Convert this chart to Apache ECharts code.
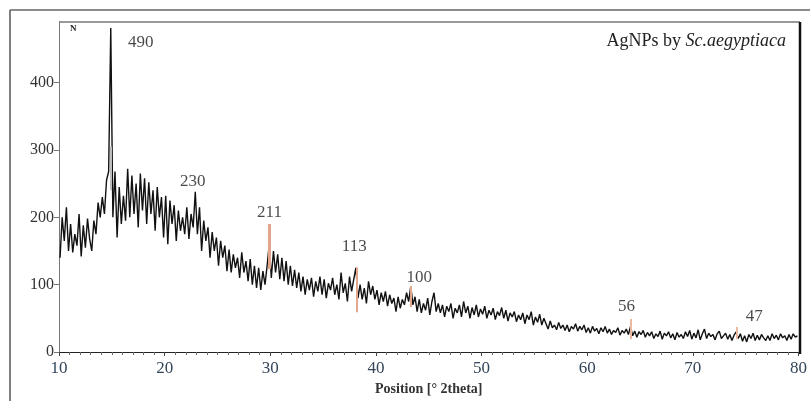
<!DOCTYPE html>
<html>
<head>
<meta charset="utf-8">
<script src="https://cdn.jsdelivr.net/npm/echarts@6/dist/echarts.min.js"></script>
<style>
  html, body { margin: 0; padding: 0; background: #fff; }
  #chart { width: 810px; height: 401px; }
</style>
</head>
<body>
<div id="chart"></div>
<script>
// 扫描参数：起点 10.1°，步长 0.2°
const startAngle = 10.1;
const stepAngle = 0.2;

// 衍射强度 (counts)，每行 1°
const counts = [
  140, 200, 165, 215, 150,
  190, 148, 175, 158, 205,
  142, 188, 155, 198, 168,
  150, 195, 175, 222, 200,
  230, 205, 255, 268, 481,
  200, 268, 170, 245, 190,
  232, 195, 272, 200, 262,
  205, 250, 185, 265, 210,
  258, 190, 252, 205, 240,
  180, 245, 200, 230, 170,
  232, 160, 225, 190, 218,
  165, 210, 180, 200, 175,
  215, 168, 205, 185, 238,
  175, 215, 150, 195, 165,
  185, 140, 178, 150, 170,
  128, 165, 140, 158, 120,
  152, 118, 145, 125, 140,
  110, 148, 118, 135, 105,
  138, 100, 128, 95, 125,
  92, 120, 100, 128, 160,
  110, 150, 118, 145, 108,
  140, 105, 135, 100, 128,
  98, 122, 95, 118, 90,
  112, 85, 108, 92, 110,
  82, 105, 90, 112, 85,
  108, 80, 102, 92, 110,
  85, 100, 78, 118, 88,
  102, 75, 112, 90, 108,
  125, 80, 100, 78, 95,
  72, 105, 85, 98, 78,
  92, 70, 88, 75, 90,
  68, 85, 72, 80, 60,
  82, 65, 78, 70, 88,
  75, 98, 70, 82, 60,
  78, 58, 72, 62, 80,
  55, 75, 88, 60, 72,
  58, 70, 52, 68, 60,
  72, 50, 65, 58, 70,
  52, 75, 58, 68, 50,
  66, 55, 70, 52, 64,
  56, 68, 50, 62, 55,
  65, 48, 60, 54, 66,
  50, 62, 46, 58, 52,
  60, 45, 55, 48, 58,
  42, 55, 48, 60, 40,
  52, 44, 56, 40, 50,
  42, 34, 46, 36, 40,
  33, 44, 35, 40, 32,
  40, 30, 38, 34, 42,
  31, 38, 33, 40, 29,
  36, 28, 38, 31, 35,
  27, 36, 30, 38, 28,
  34, 26, 32, 29, 36,
  25, 32, 28, 34, 26,
  38, 24, 31, 22, 30,
  26, 32, 22, 29, 24,
  30, 20, 27, 23, 31,
  19, 28, 24, 30, 21,
  27, 18, 29, 22, 26,
  20, 30, 23, 32, 19,
  28, 21, 33, 18, 27,
  34, 20, 28, 23, 26,
  18, 27, 31, 20, 24,
  28, 19, 26, 17, 25,
  30, 20, 27, 16, 24,
  15, 26, 20, 28, 17,
  25, 18, 26, 21, 17,
  24, 17, 27, 20, 25,
  18, 27, 21, 24, 17,
  26, 19, 27, 22, 24
];

// 参考峰（竖线）
const stickPos = [14.9, 29.9, 38.2, 43.3, 64.1, 74.2];
const stickLow = [240, 123, 59, 67, 19, 19];
const stickHigh = [305, 190, 126, 98, 49, 37];
const stickColor = ['#bdbdbd', '#e3a58c', '#e2a88c', '#e2a88c', '#eab9a0', '#eab9a0'];

// 峰值标注
const peakText = ['490', '230', '211', '113', '100', '56', '47'];
const peakX = [17.74, 22.65, 29.92, 37.95, 44.09, 63.73, 75.82];
const peakY = [459, 253, 207, 156, 111, 68, 52];

const yTicks = [0, 100, 200, 300, 400];

let lineData = counts.map((c, i) => [+(startAngle + i * stepAngle).toFixed(1), c]);

let sticks = stickPos.map((p, i) => [
  { coord: [p, stickLow[i]], lineStyle: { color: stickColor[i], width: i === 1 ? 3 : 2 } },
  { coord: [p, stickHigh[i]] }
]);

let labels = peakText.map((t, i) => ({ value: [peakX[i], peakY[i]], name: t }));

let myChart = echarts.init(document.getElementById('chart'));
let option = {
  animation: false,
  grid: { left: 59, right: 10, top: 22, bottom: 48 },
  xAxis: {
    type: 'value',
    min: 10,
    max: 80,
    interval: 10,
    name: 'Position [° 2theta]',
    nameLocation: 'middle',
    nameGap: 30,
    nameTextStyle: { fontFamily: 'Liberation Serif', fontSize: 14, fontWeight: 'bold', color: '#333' },
    axisLine: { lineStyle: { color: '#222', width: 1 } },
    axisTick: { show: true, length: 4, lineStyle: { color: '#444' } },
    minorTick: { show: true, splitNumber: 10, length: 3, lineStyle: { color: '#666' } },
    axisLabel: { fontFamily: 'Liberation Serif', fontSize: 17, color: '#34465a', margin: 8 },
    splitLine: { show: false }
  },
  yAxis: {
    type: 'value',
    min: 0,
    max: 490,
    axisLine: { show: true, lineStyle: { color: '#777' } },
    axisTick: { show: true, length: 5, customValues: yTicks, lineStyle: { color: '#777' } },
    axisLabel: { fontFamily: 'Liberation Serif', fontSize: 16, color: '#333', margin: 5, customValues: yTicks },
    splitLine: { show: false }
  },
  graphic: [
    // 外框
    { type: 'line', shape: { x1: 10, y1: 10, x2: 810, y2: 10 }, style: { stroke: '#666', lineWidth: 1.5 } },
    { type: 'line', shape: { x1: 10, y1: 10, x2: 10, y2: 401 }, style: { stroke: '#555', lineWidth: 1.5 } },
    // 绘图区上边和右边
    { type: 'line', shape: { x1: 59, y1: 22, x2: 800, y2: 22 }, style: { stroke: '#999', lineWidth: 2 } },
    { type: 'line', shape: { x1: 800, y1: 22, x2: 800, y2: 354 }, style: { stroke: '#111', lineWidth: 2.5 } },
    { type: 'text', left: 70, top: 24, style: { text: 'N', font: 'bold 9px "Liberation Serif"', fill: '#222' } },
    {
      type: 'text', right: 24, top: 32,
      style: {
        text: '{a|AgNPs by }{b|Sc.aegyptiaca}',
        rich: {
          a: { fontFamily: 'Liberation Serif', fontSize: 18, fill: '#222' },
          b: { fontFamily: 'Liberation Serif', fontSize: 18, fontStyle: 'italic', fill: '#222' }
        }
      }
    }
  ],
  series: [
    {
      type: 'line',
      data: lineData,
      symbol: 'none',
      lineStyle: { color: '#111', width: 1.4 },
      z: 3,
      markLine: {
        silent: true,
        symbol: ['none', 'none'],
        label: { show: false },
        lineStyle: { type: 'solid', width: 2 },
        data: sticks
      }
    },
    {
      type: 'scatter',
      data: labels,
      symbolSize: 0,
      clip: false,
      silent: true,
      label: {
        show: true,
        position: 'inside',
        formatter: '{b}',
        fontFamily: 'Liberation Serif',
        fontSize: 17,
        color: '#1a1a1a'
      }
    }
  ]
};
myChart.setOption(option);
</script>
</body>
</html>
